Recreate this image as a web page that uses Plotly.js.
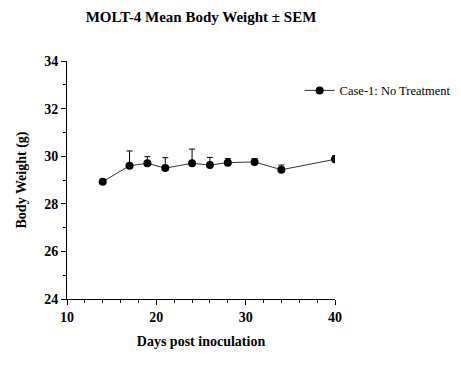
<!DOCTYPE html>
<html><head><meta charset="utf-8">
<script src="https://cdn.plot.ly/plotly-3.0.1.min.js"></script>
<style>body{margin:0;background:#fff}#c{width:461px;height:374px}</style>
</head><body><div id="c"></div>
<script>
const days = [14, 17, 19, 21, 24, 26, 28, 31, 34, 40];
const meanWeight = [28.93, 29.60, 29.70, 29.50, 29.70, 29.63, 29.73, 29.76, 29.43, 29.87];
const semWeight = [0.0, 0.62, 0.28, 0.44, 0.60, 0.32, 0.17, 0.14, 0.20, 0.15];
const seriesName = "Case-1: No Treatment";
const titleText = "MOLT-4 Mean Body Weight ± SEM";
const xTitle = "Days post inoculation";
const yTitle = "Body Weight (g)";

const serif = "Liberation Serif, Times New Roman, serif";
const trace = {
  x: days, y: meanWeight, name: seriesName, type: 'scatter', mode: 'lines+markers',
  line: {color: '#333', width: 1},
  marker: {color: '#000', size: 8, symbol: 'circle'},
  error_y: {type: 'data', symmetric: false, array: semWeight, arrayminus: days.map(() => 0),
            color: '#000', thickness: 1, width: 3},
  showlegend: true
};
const layout = {
  width: 461, height: 374,
  margin: {l: 67, r: 126, t: 61, b: 75, autoexpand: false},
  paper_bgcolor: '#fff', plot_bgcolor: '#fff',
  font: {family: serif, color: '#000'},
  title: {text: '<b>' + titleText + '</b>', font: {size: 15, family: serif, color: '#000'},
          x: 0.5, xref: 'paper', y: 0.955, yanchor: 'middle'},
  xaxis: {
    range: [10, 40], tickvals: [10, 20, 30, 40], ticktext: ['<b>10</b>','<b>20</b>','<b>30</b>','<b>40</b>'],
    showgrid: false, zeroline: false, showline: true, linecolor: '#000', linewidth: 1,
    ticks: 'outside', ticklen: 5, tickcolor: '#000', tickwidth: 1,
    minor: {dtick: 2, tick0: 10, ticks: 'outside', ticklen: 3, tickcolor: '#000', showgrid: false},
    tickfont: {size: 14, family: serif, color: '#000'},
    title: {text: '<b>' + xTitle + '</b>', font: {size: 14, family: serif, color: '#000'}, standoff: 12}
  },
  yaxis: {
    range: [24, 34], tickvals: [24, 26, 28, 30, 32, 34],
    ticktext: ['<b>24</b>','<b>26</b>','<b>28</b>','<b>30</b>','<b>32</b>','<b>34</b>'],
    showgrid: false, zeroline: false, showline: true, linecolor: '#000', linewidth: 1,
    ticks: 'outside', ticklen: 5, tickcolor: '#000', tickwidth: 1,
    minor: {dtick: 1, tick0: 24, ticks: 'outside', ticklen: 3, tickcolor: '#000', showgrid: false},
    tickfont: {size: 14, family: serif, color: '#000'},
    title: {text: '<b>' + yTitle + '</b>', font: {size: 14, family: serif, color: '#000'}, standoff: 14}
  },
  showlegend: true,
  legend: {x: 0.868, y: 0.875, xanchor: 'left', yanchor: 'middle', bgcolor: 'rgba(0,0,0,0)',
           font: {size: 12.5, family: serif, color: '#000'}, itemwidth: 30}
};
Plotly.newPlot('c', [trace], layout, {displayModeBar: false, staticPlot: true});
</script></body></html>
